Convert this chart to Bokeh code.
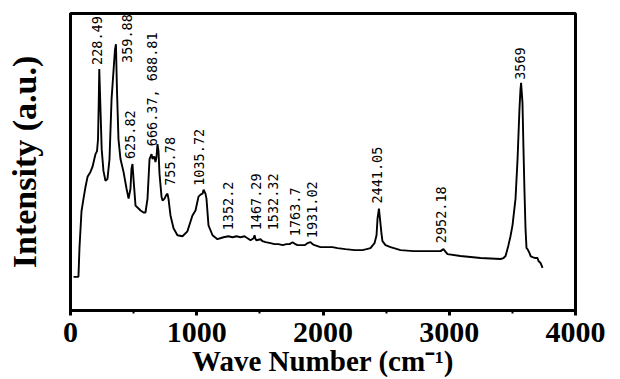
import math
from bokeh.plotting import figure
from bokeh.models import Range1d, FixedTicker, ColumnDataSource
from bokeh.core.properties import value
from bokeh.embed import file_html
from bokeh.resources import INLINE

# Spectrum (wavenumber in cm^-1, intensity in arbitrary units)
wavenumber = [24, 63, 71, 87, 103, 119, 135, 158, 174, 198, 210, 218, 224, 228, 234, 247, 261, 277, 293, 309,
              325, 352, 360, 368, 380, 396, 420, 444, 460, 475, 483, 491, 499, 515, 539, 555, 578, 594, 610, 626,
              642, 650, 658, 665, 673, 681, 689, 697, 705, 721, 729, 745, 760, 768, 776, 792, 816, 847, 887, 926,
              966, 990, 1014, 1030, 1046, 1054, 1069, 1077, 1093, 1125, 1164, 1212, 1251, 1283, 1315, 1347, 1378, 1402, 1426, 1450,
              1458, 1466, 1474, 1505, 1521, 1545, 1584, 1616, 1648, 1680, 1711, 1735, 1759, 1782, 1798, 1830, 1854, 1877, 1901, 1917,
              1933, 1980, 2020, 2075, 2115, 2178, 2250, 2313, 2345, 2376, 2408, 2424, 2432, 2443, 2451, 2463, 2471, 2495, 2535, 2614,
              2717, 2788, 2851, 2931, 2954, 2986, 3089, 3248, 3406, 3430, 3446, 3469, 3485, 3501, 3525, 3541, 3556, 3564, 3569, 3580,
              3588, 3596, 3604, 3612, 3620, 3628, 3636, 3644, 3659, 3683, 3699, 3707, 3723, 3739]
intensity = [34, 34, 63, 100, 113, 125, 135, 140, 145, 158, 161, 173, 213, 244, 218, 163, 141, 131, 133, 153,
             213, 263, 269, 223, 173, 153, 140, 123, 113, 123, 143, 148, 133, 106, 103, 101, 99, 99, 113, 153,
             158, 153, 155, 155, 150, 155, 168, 161, 138, 115, 111, 113, 117, 118, 113, 96, 83, 76, 75, 80,
             96, 101, 115, 117, 118, 122, 118, 113, 86, 76, 72, 74, 75, 74, 75, 74, 75, 73, 71, 73,
             76, 72, 71, 72, 70, 69, 68, 67, 67, 66, 67, 67, 69, 67, 66, 66, 66, 68, 69, 67,
             66, 64, 64, 64, 63, 62, 61, 61, 62, 63, 68, 76, 93, 103, 93, 78, 70, 66, 64, 61,
             60, 60, 60, 60, 62, 57, 55, 53, 52, 53, 55, 66, 75, 86, 113, 153, 203, 223, 230, 210,
             163, 120, 83, 63, 62, 60, 58, 55, 54, 53, 53, 50, 48, 43]

# Peak annotations: text, x position (cm^-1), bottom of the text (intensity units)
peak_labels = ["228.49", "359.88", "625.82", "666.37, 688.81", "755.78", "1035.72", "1352.2",
               "1467.29", "1532.32", "1763.7", "1931.02", "2441.05", "2952.18", "3569"]
peak_label_x = [206, 444, 475, 646, 792, 1014, 1251, 1473, 1600, 1782, 1909, 2424, 2931, 3564]
peak_label_y = [248, 250, 153, 166, 126, 126, 81, 81, 81, 75, 73, 108, 68, 233]

x_ticks = [0, 1000, 2000, 3000, 4000]
x_minor_ticks = [500, 1500, 2500, 3500]
x_title = "Wave Number (cm⁻¹)"
y_title = "Intensity (a.u.)"

p = figure(width=620, height=379, x_range=Range1d(0, 4000), y_range=Range1d(0, 300),
           output_backend="svg", toolbar_location=None,
           min_border_left=70, min_border_right=45, min_border_top=13, min_border_bottom=66)
p.grid.visible = False
p.background_fill_color = "white"
p.border_fill_color = "white"
p.outline_line_color = "black"
p.outline_line_width = 3

xa = p.xaxis[0]
xa.ticker = FixedTicker(ticks=x_ticks, minor_ticks=x_minor_ticks)
xa.axis_line_width = 3
xa.major_tick_out = 5
xa.major_tick_in = 0
xa.major_tick_line_width = 3
xa.minor_tick_out = 3
xa.minor_tick_in = 0
xa.minor_tick_line_width = 2
xa.major_label_text_font = "Liberation Serif"
xa.major_label_text_font_style = "bold"
xa.major_label_text_font_size = "30px"
xa.major_label_text_color = "black"
xa.major_label_text_line_height = 0.7
xa.major_label_standoff = 7
xa.axis_label = x_title
xa.axis_label_text_font = "Liberation Serif"
xa.axis_label_text_font_style = "bold"
xa.axis_label_text_font_size = "29px"
xa.axis_label_text_color = "black"
xa.axis_label_text_line_height = 0.7
xa.axis_label_standoff = 0

ya = p.yaxis[0]
ya.ticker = FixedTicker(ticks=[])
ya.axis_line_width = 3
ya.major_tick_line_color = None
ya.minor_tick_line_color = None
ya.major_label_text_font_size = "0px"
ya.major_label_standoff = 0
ya.axis_label = y_title
ya.axis_label_text_font = "Liberation Serif"
ya.axis_label_text_font_style = "bold"
ya.axis_label_text_font_size = "34px"
ya.axis_label_text_color = "black"
ya.axis_label_standoff = 28

spec = ColumnDataSource(data=dict(x=wavenumber, y=intensity))
p.line("x", "y", source=spec, line_color="black", line_width=1.9)

lab = ColumnDataSource(data=dict(x=peak_label_x, y=peak_label_y, t=peak_labels))
p.text("x", "y", text="t", source=lab, angle=math.pi / 2, text_align="left", text_baseline="middle",
       text_font=value("DejaVu Sans Mono"), text_font_size="13.5px", text_color="black")

open("out.html", "w").write(file_html(p, INLINE))
